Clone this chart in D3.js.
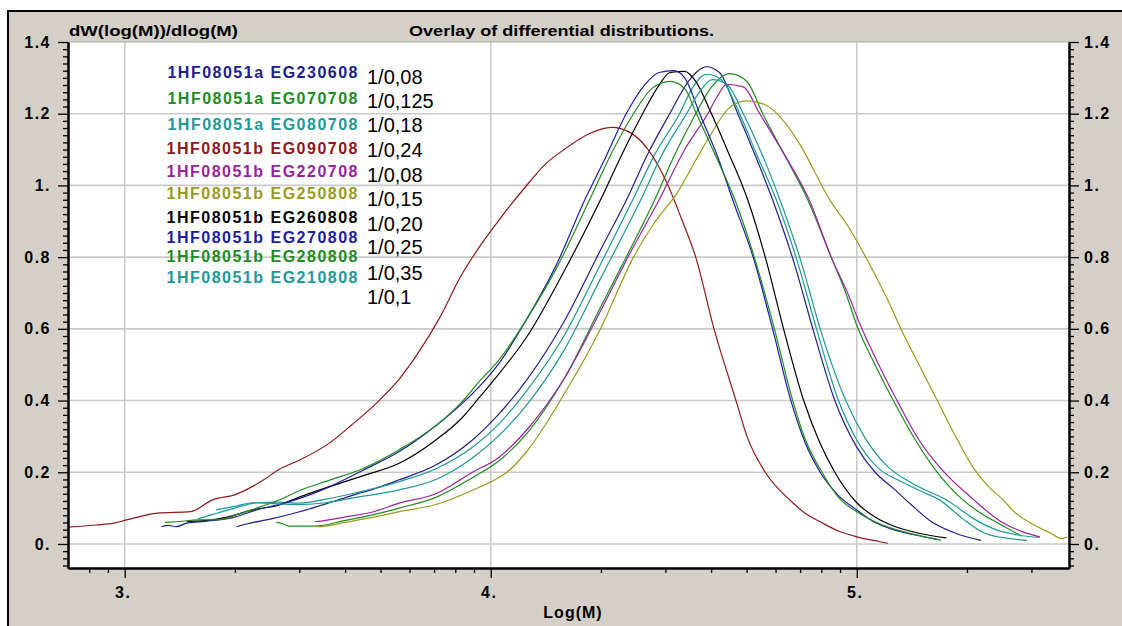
<html>
<head>
<meta charset="utf-8">
<style>
  body { margin: 0; background: #fff; }
  svg text { font-family: "Liberation Sans", Arial, sans-serif; }
</style>
</head>
<body>
<div id="chartContainer"></div>
<script src="https://cdnjs.cloudflare.com/ajax/libs/d3/7.8.5/d3.min.js"></script>
<script>
// series names (legend order) and the dilution notes typed next to them
var seriesNames = ["1HF08051a EG230608", "1HF08051a EG070708", "1HF08051a EG080708",
  "1HF08051b EG090708", "1HF08051b EG220708", "1HF08051b EG250808", "1HF08051b EG260808",
  "1HF08051b EG270808", "1HF08051b EG280808", "1HF08051b EG210808"];
var dilutionLabels = ["1/0,08", "1/0,125", "1/0,18", "1/0,24", "1/0,08", "1/0,15",
  "1/0,20", "1/0,25", "1/0,35", "1/0,1"];

// [log(M), dW/dlogM]
var eg230608 = [[3.305,0.048],[3.33,0.055],[3.4,0.07],[3.478,0.09],[3.55,0.112],[3.62,0.135],[3.7,0.16],[3.75,0.179],[3.85,0.22],[3.95,0.29],[4.02,0.36],[4.1,0.46],[4.2,0.62],[4.3,0.82],[4.371,0.96],[4.43,1.09],[4.489,1.2],[4.54,1.29],[4.589,1.331],[4.625,1.315],[4.675,1.2],[4.72,1.09],[4.77,0.96],[4.83,0.78],[4.88,0.6],[4.94,0.4],[5.0,0.27],[5.05,0.2],[5.1,0.155],[5.148,0.11],[5.2,0.065],[5.27,0.03],[5.34,0.01]];
var eg070708 = [[3.414,0.06],[3.43,0.057],[3.45,0.05],[3.49,0.05],[3.52,0.05],[3.6,0.065],[3.68,0.082],[3.75,0.1],[3.85,0.13],[3.95,0.185],[4.02,0.23],[4.1,0.31],[4.2,0.46],[4.3,0.66],[4.38,0.82],[4.448,0.96],[4.5,1.08],[4.56,1.2],[4.6,1.27],[4.653,1.312],[4.7,1.29],[4.743,1.2],[4.8,1.09],[4.866,0.96],[4.93,0.8],[4.97,0.7],[5.0,0.61],[5.05,0.5],[5.1,0.4],[5.16,0.29],[5.22,0.2],[5.29,0.123],[5.34,0.085],[5.39,0.056],[5.45,0.022]];
var eg080708 = [[3.2,0.07],[3.25,0.085],[3.3,0.1],[3.36,0.115],[3.42,0.117],[3.478,0.114],[3.55,0.125],[3.62,0.14],[3.75,0.174],[3.85,0.21],[3.95,0.27],[4.02,0.332],[4.1,0.43],[4.2,0.58],[4.3,0.78],[4.388,0.96],[4.45,1.09],[4.516,1.2],[4.55,1.27],[4.589,1.31],[4.63,1.295],[4.68,1.2],[4.725,1.09],[4.78,0.96],[4.84,0.78],[4.89,0.6],[4.95,0.4],[5.0,0.29],[5.06,0.21],[5.12,0.175],[5.18,0.145],[5.226,0.123],[5.29,0.07],[5.35,0.03],[5.42,0.015],[5.465,0.01]];
var eg090708 = [[2.845,0.047],[2.92,0.053],[2.97,0.058],[3.005,0.067],[3.09,0.086],[3.18,0.09],[3.24,0.123],[3.3,0.137],[3.38,0.179],[3.42,0.207],[3.48,0.235],[3.56,0.282],[3.62,0.332],[3.69,0.395],[3.75,0.46],[3.8,0.53],[3.86,0.63],[3.92,0.75],[3.97,0.83],[4.02,0.9],[4.09,0.99],[4.15,1.06],[4.2,1.1],[4.27,1.145],[4.33,1.162],[4.38,1.148],[4.43,1.1],[4.48,1.01],[4.52,0.91],[4.56,0.8],[4.61,0.6],[4.67,0.4],[4.7,0.3],[4.75,0.2],[4.82,0.12],[4.86,0.085],[4.9,0.062],[4.95,0.036],[5.0,0.02],[5.06,0.007],[5.085,0.002]];
var eg220708 = [[3.519,0.062],[3.55,0.066],[3.6,0.075],[3.68,0.09],[3.75,0.114],[3.85,0.14],[3.95,0.2],[4.02,0.24],[4.1,0.32],[4.2,0.46],[4.3,0.65],[4.38,0.81],[4.46,0.96],[4.53,1.1],[4.593,1.2],[4.62,1.25],[4.644,1.282],[4.69,1.275],[4.735,1.2],[4.8,1.09],[4.87,0.96],[4.93,0.8],[4.975,0.7],[5.01,0.61],[5.06,0.5],[5.11,0.4],[5.17,0.29],[5.23,0.21],[5.32,0.123],[5.39,0.065],[5.45,0.035],[5.5,0.02]];
var eg250808 = [[3.519,0.048],[3.55,0.05],[3.6,0.06],[3.68,0.075],[3.75,0.09],[3.85,0.11],[3.95,0.15],[4.02,0.184],[4.044,0.2],[4.1,0.26],[4.19,0.4],[4.3,0.6],[4.39,0.8],[4.45,0.9],[4.51,0.98],[4.56,1.07],[4.6,1.14],[4.65,1.215],[4.698,1.236],[4.75,1.225],[4.8,1.18],[4.844,1.115],[4.926,0.96],[4.98,0.88],[5.035,0.78],[5.08,0.69],[5.13,0.58],[5.18,0.48],[5.22,0.4],[5.27,0.3],[5.32,0.21],[5.36,0.16],[5.4,0.123],[5.43,0.09],[5.49,0.05],[5.53,0.03],[5.56,0.015],[5.575,0.02]];
var eg260808 = [[3.17,0.063],[3.22,0.065],[3.28,0.075],[3.35,0.095],[3.42,0.108],[3.48,0.132],[3.56,0.16],[3.65,0.19],[3.75,0.225],[3.85,0.29],[3.92,0.35],[3.97,0.41],[4.005,0.453],[4.1,0.58],[4.2,0.76],[4.3,0.96],[4.36,1.09],[4.415,1.2],[4.46,1.28],[4.49,1.315],[4.53,1.318],[4.56,1.29],[4.603,1.2],[4.65,1.09],[4.702,0.96],[4.75,0.8],[4.8,0.6],[4.855,0.4],[4.9,0.28],[4.94,0.2],[5.0,0.115],[5.05,0.075],[5.1,0.05],[5.17,0.03],[5.245,0.017]];
var eg270808 = [[3.1,0.048],[3.12,0.052],[3.14,0.048],[3.17,0.058],[3.22,0.063],[3.3,0.075],[3.36,0.095],[3.42,0.11],[3.48,0.128],[3.56,0.16],[3.65,0.205],[3.75,0.258],[3.85,0.33],[3.92,0.39],[3.97,0.44],[4.02,0.5],[4.1,0.63],[4.18,0.78],[4.257,0.96],[4.31,1.07],[4.37,1.2],[4.42,1.28],[4.46,1.315],[4.5,1.32],[4.53,1.3],[4.571,1.2],[4.62,1.08],[4.661,0.96],[4.72,0.79],[4.77,0.6],[4.82,0.4],[4.86,0.28],[4.9,0.2],[4.95,0.135],[5.0,0.095],[5.05,0.06],[5.1,0.04],[5.16,0.025],[5.22,0.013]];
var eg280808 = [[3.11,0.06],[3.14,0.062],[3.2,0.067],[3.26,0.068],[3.3,0.08],[3.36,0.1],[3.42,0.122],[3.48,0.15],[3.56,0.178],[3.65,0.21],[3.75,0.263],[3.85,0.33],[3.92,0.395],[3.97,0.455],[4.02,0.51],[4.1,0.63],[4.18,0.77],[4.27,0.96],[4.33,1.09],[4.39,1.2],[4.44,1.27],[4.49,1.29],[4.53,1.27],[4.562,1.2],[4.62,1.07],[4.667,0.96],[4.72,0.8],[4.775,0.6],[4.825,0.4],[4.86,0.29],[4.905,0.2],[4.95,0.13],[5.0,0.09],[5.05,0.062],[5.1,0.042],[5.16,0.026],[5.23,0.01]];
var eg210808 = [[3.25,0.095],[3.3,0.105],[3.35,0.115],[3.42,0.112],[3.478,0.11],[3.55,0.115],[3.62,0.128],[3.75,0.151],[3.85,0.18],[3.95,0.24],[4.02,0.3],[4.1,0.39],[4.2,0.54],[4.3,0.74],[4.41,0.96],[4.47,1.09],[4.535,1.2],[4.57,1.26],[4.605,1.295],[4.645,1.282],[4.69,1.2],[4.74,1.09],[4.79,0.96],[4.85,0.78],[4.9,0.6],[4.97,0.4],[5.02,0.3],[5.08,0.22],[5.15,0.17],[5.25,0.12],[5.32,0.07],[5.38,0.04],[5.44,0.025],[5.5,0.018]];

var seriesData = [eg230608, eg070708, eg080708, eg090708, eg220708,
  eg250808, eg260808, eg270808, eg280808, eg210808];

// tick labels
var yTicks = [0, 0.2, 0.4, 0.6, 0.8, 1, 1.2, 1.4];
var yTickLabels = ["0.", "0.2", "0.4", "0.6", "0.8", "1.", "1.2", "1.4"];
var xTicks = [3, 4, 5];
var xTickLabels = ["3.", "4.", "5."];

// line colours, same order as the legend
var seriesColors = ["#20208c", "#1e8c1e", "#1e9898", "#901818", "#9a22a0",
  "#9a9a1c", "#000000", "#1c1ca4", "#1e8c1e", "#1e9898"];

var width = 1122, height = 626;
var plotLeft = 68, plotRight = 1069, plotTop = 42, plotBottom = 568;

var svg = d3.select("#chartContainer").append("svg")
  .attr("width", width).attr("height", height);

// window frame
svg.append("rect").attr("x", 9).attr("y", 12).attr("width", width - 9).attr("height", height - 12)
  .style("fill", "#d4d0c8");
svg.append("line").attr("x1", 8).attr("x2", width).attr("y1", 11).attr("y2", 11)
  .style("stroke", "#000").style("stroke-width", 2);
svg.append("line").attr("x1", 8).attr("x2", 8).attr("y1", 10).attr("y2", height)
  .style("stroke", "#000").style("stroke-width", 2);

// plot area
svg.append("rect").attr("x", plotLeft).attr("y", plotTop)
  .attr("width", plotRight - plotLeft).attr("height", plotBottom - plotTop)
  .style("fill", "#fff");
svg.append("line").attr("x1", plotLeft).attr("x2", plotRight).attr("y1", plotTop).attr("y2", plotTop)
  .style("stroke", "#a8a8a8").style("stroke-width", 1);

var x = d3.scaleLinear().domain([Math.log10(700), Math.log10(380000)]).range([plotLeft, plotRight]);
var y = d3.scaleLinear().domain([-0.067, 1.4]).range([plotBottom, plotTop]);

// grid
svg.append("g").selectAll("line").data(yTicks.slice(0, -1)).enter().append("line")
  .attr("x1", plotLeft).attr("x2", plotRight)
  .attr("y1", function (d) { return y(d); }).attr("y2", function (d) { return y(d); })
  .style("stroke", "#cacaca").style("stroke-width", 1.6);
svg.append("g").selectAll("line").data(xTicks).enter().append("line")
  .attr("x1", function (d) { return x(d); }).attr("x2", function (d) { return x(d); })
  .attr("y1", plotTop).attr("y2", plotBottom)
  .style("stroke", "#cacaca").style("stroke-width", 1.6);

// curves
svg.append("clipPath").attr("id", "plotClip").append("rect")
  .attr("x", plotLeft).attr("y", plotTop)
  .attr("width", plotRight - plotLeft).attr("height", plotBottom - plotTop);

var line = d3.line()
  .x(function (d) { return x(d[0]); })
  .y(function (d) { return y(d[1]); })
  .curve(d3.curveMonotoneX);

svg.append("g").attr("clip-path", "url(#plotClip)")
  .selectAll("path").data(seriesData).enter().append("path")
  .attr("d", line)
  .style("fill", "none")
  .style("stroke", function (d, i) { return seriesColors[i]; })
  .style("stroke-width", 1.2);

// minor tick positions
var yMinor = d3.range(-3, 71).map(function (k) { return k * 0.02; })
  .filter(function (v) { return Math.round(v * 100) % 20 !== 0; });
var xMinor = [];
[100, 1000, 10000, 100000].forEach(function (dec) {
  for (var m = 2; m <= 9; m++) {
    var v = Math.log10(m * dec);
    if (v > x.domain()[0] + 0.001 && v < x.domain()[1]) xMinor.push(v);
  }
});

function styleAxis(g) {
  g.select(".domain").style("stroke", "#000").style("stroke-width", 2);
  g.selectAll(".tick line").style("stroke", "#000").style("stroke-width", 1.3);
  g.selectAll("text")
    .attr("font-family", "Liberation Sans, Arial, sans-serif")
    .attr("font-size", 16).attr("font-weight", "bold")
    .style("letter-spacing", "1.5px").style("fill", "#000");
}

// left axis
svg.append("g").attr("transform", "translate(" + plotLeft + ",0)")
  .call(d3.axisLeft(y).tickValues(yMinor).tickSize(5).tickSizeOuter(0).tickFormat(""))
  .call(styleAxis);
svg.append("g").attr("transform", "translate(" + plotLeft + ",0)")
  .call(d3.axisLeft(y).tickValues(yTicks).tickSize(10).tickSizeOuter(0).tickPadding(7)
    .tickFormat(function (d, i) { return yTickLabels[i]; }))
  .call(styleAxis);

// right axis
svg.append("g").attr("transform", "translate(" + plotRight + ",0)")
  .call(d3.axisRight(y).tickValues(yMinor).tickSize(5).tickSizeOuter(0).tickFormat(""))
  .call(styleAxis);
svg.append("g").attr("transform", "translate(" + plotRight + ",0)")
  .call(d3.axisRight(y).tickValues(yTicks).tickSize(10).tickSizeOuter(0).tickPadding(5)
    .tickFormat(function (d, i) { return yTickLabels[i]; }))
  .call(styleAxis);

// bottom axis
svg.append("g").attr("transform", "translate(0," + plotBottom + ")")
  .call(d3.axisBottom(x).tickValues(xMinor).tickSize(5).tickSizeOuter(0).tickFormat(""))
  .call(styleAxis);
svg.append("g").attr("transform", "translate(0," + plotBottom + ")")
  .call(d3.axisBottom(x).tickValues(xTicks).tickSize(10).tickSizeOuter(0).tickPadding(9)
    .tickFormat(function (d, i) { return xTickLabels[i]; }))
  .call(styleAxis)
  .selectAll("text").attr("dx", -2);

// titles
svg.append("text").attr("x", 69).attr("y", 36)
  .attr("textLength", 169).attr("lengthAdjust", "spacingAndGlyphs")
  .style("font-size", "15px").style("font-weight", "bold")
  .text("dW(log(M))/dlog(M)");
svg.append("text").attr("x", 409).attr("y", 36)
  .attr("textLength", 305).attr("lengthAdjust", "spacingAndGlyphs")
  .style("font-size", "15px").style("font-weight", "bold")
  .text("Overlay of differential distributions.");
svg.append("text").attr("x", 573).attr("y", 618)
  .attr("text-anchor", "middle")
  .style("font-size", "16px").style("font-weight", "bold").style("letter-spacing", "1px")
  .text("Log(M)");

// legend block
var legendBase = [77.7, 103.7, 130.3, 153.7, 177, 198.7, 222.7, 242.7, 262, 282.7];
svg.append("g").selectAll("text").data(seriesNames).enter().append("text")
  .attr("x", 359)
  .attr("y", function (d, i) { return legendBase[i]; })
  .attr("text-anchor", "end")
  .style("font-size", "16px").style("font-weight", "bold").style("letter-spacing", "1.5px")
  .style("fill", function (d, i) { return seriesColors[i]; })
  .text(function (d) { return d; });

var noteBase = [84.3, 108.3, 132.3, 157.3, 181.7, 205.7, 231, 254.3, 280, 304.3];
svg.append("g").selectAll("text").data(dilutionLabels).enter().append("text")
  .attr("x", 367)
  .attr("y", function (d, i) { return noteBase[i]; })
  .style("font-size", "20px").style("fill", "#000")
  .text(function (d) { return d; });
</script>
</body>
</html>
